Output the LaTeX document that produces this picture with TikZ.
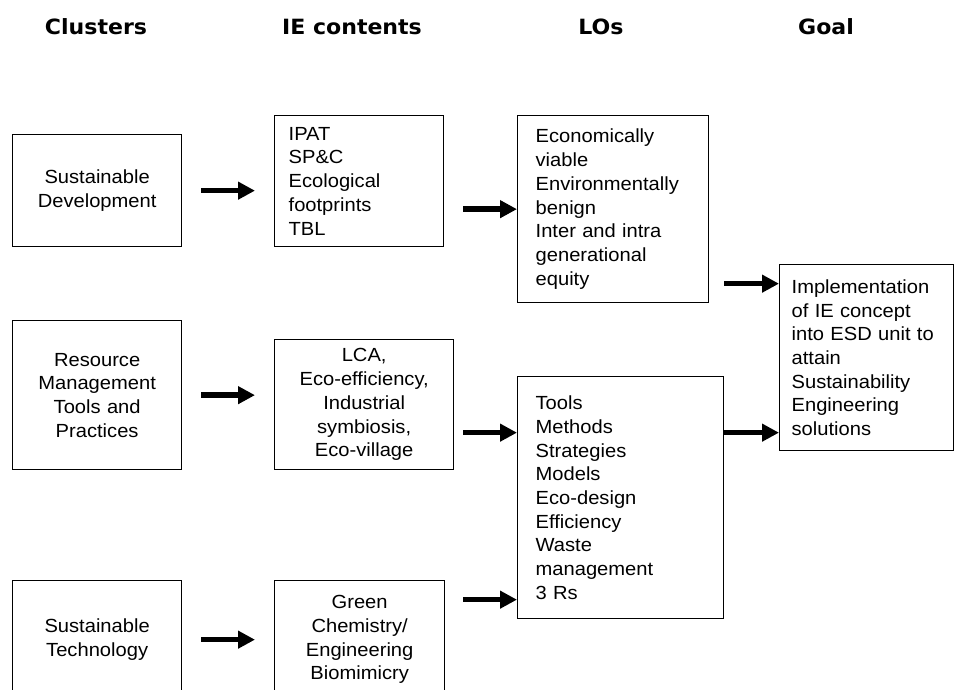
\documentclass[tikz,border=0pt]{standalone}
\usepackage{fontspec}
\setmainfont{Liberation Sans}
\newfontfamily\boxfont{Liberation Sans}[FakeStretch=1.06]
\newfontfamily\headfont{DejaVu Sans}[FakeStretch=1.05]
\usetikzlibrary{arrows.meta}

\begin{document}
\begin{tikzpicture}[
	x=1pt,y=-1pt,
	head/.style={anchor=base,font=\headfont\bfseries\fontsize{21}{25}\selectfont},
	mybox/.style={draw,line width=1.3pt,anchor=north west,inner ysep=0pt,
		font=\boxfont\fontsize{19}{23.7}\selectfont},
	midbox/.style={mybox,align=center,inner xsep=6pt},
	listbox/.style={mybox,align=left},
	flow/.style={line width=5.5pt,-{Triangle[length=17pt,width=17pt]}}
	]
	\clip (0,0) rectangle (955,689);
	\node[head] (clusters) at (96,34) {Clusters};
	\node[head] (iecontents) at (352,34) {IE contents};
	\node[head] (los) at (601,34) {LOs};
	\node[head] (goalhead) at (826,34) {Goal};

	\node[midbox,text width=157pt,minimum height=112pt] (sustdev) at (12,134) {Sustainable\\Development};
	\node[midbox,text width=157pt,minimum height=149pt] (resmgmt) at (12,320) {Resource\\Management\\Tools and\\Practices};
	\node[midbox,text width=157pt,minimum height=118pt] (susttech) at (12,580) {Sustainable\\Technology};

	\node[listbox,inner xsep=14pt,text width=141pt,minimum height=131pt] (ipat) at (274,115) {IPAT\\SP\&C\\Ecological\\footprints\\TBL};
	\node[midbox,text width=167pt,minimum height=130pt] (lca) at (274,339) {LCA,\\Eco-efficiency,\\Industrial\\symbiosis,\\Eco-village};
	\node[midbox,text width=158pt,minimum height=118pt] (greenchem) at (274,580) {Green\\Chemistry/\\Engineering\\Biomimicry};

	\node[listbox,inner xsep=18pt,text width=155pt,minimum height=187pt] (econ) at (517,115) {Economically\\viable\\Environmentally\\benign\\Inter and intra\\generational\\equity};
	\node[listbox,inner xsep=18pt,text width=170pt,minimum height=242pt] (tools) at (517,376) {Tools\\Methods\\Strategies\\Models\\Eco-design\\Efficiency\\Waste\\management\\3 Rs};

	\node[listbox,inner xsep=12pt,text width=150pt,minimum height=186pt] (goal) at (779,264) {Implementation\\of IE concept\\into ESD unit to\\attain\\Sustainability\\Engineering\\solutions};

	\coordinate (lcain) at ([yshift=65pt]tools.west);
	\coordinate (greenin) at ([yshift=-102pt]tools.west);
	\coordinate (econout) at ([yshift=74pt]goal.west);
	\coordinate (toolsout) at ([yshift=-75pt]goal.west);

	\path[flow]
	(sustdev.east) edge[shorten <=19pt,shorten >=19pt] (sustdev.east -| ipat.west)
	(resmgmt.east) edge[shorten <=19pt,shorten >=19pt] (resmgmt.east -| lca.west)
	(susttech.east) edge[shorten <=19pt,shorten >=19pt] (susttech.east -| greenchem.west)
	(econ.west -| ipat.east) edge[shorten <=19pt] (econ.west)
	(lcain -| lca.east) edge[shorten <=9pt] (lcain)
	(greenin -| greenchem.east) edge[shorten <=18pt] (greenin)
	(econout -| econ.east) edge[shorten <=15pt] (econout)
	(toolsout -| tools.east) edge (toolsout);
\end{tikzpicture}
\end{document}
